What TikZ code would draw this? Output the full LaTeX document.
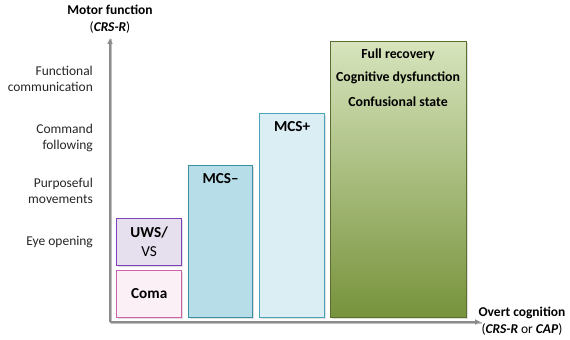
\documentclass[tikz,border=0pt]{standalone}
\usepackage{fontspec}
\setmainfont{Carlito}
\usetikzlibrary{positioning,shadows,arrows.meta}
\definecolor{axisgray}{HTML}{8C8C8C}
\definecolor{comaline}{HTML}{D060A8}
\definecolor{comafill}{HTML}{FCF0F7}
\definecolor{uwsline}{HTML}{7F3FBF}
\definecolor{uwsfill}{HTML}{E5DFEE}
\definecolor{mcsmline}{HTML}{3A8FA0}
\definecolor{mcsmfill}{HTML}{B7DDE8}
\definecolor{mcspline}{HTML}{4BA3B8}
\definecolor{mcspfill}{HTML}{DAEEF3}
\definecolor{recline}{HTML}{5A6E30}
\definecolor{rectop}{HTML}{D7E4BD}
\definecolor{recbot}{HTML}{77933C}
\tikzset{
  stage/.style={draw, line width=1.2pt, anchor=south west, inner sep=0pt,
    drop shadow={opacity=0.25, shadow xshift=1.2pt, shadow yshift=-1.2pt}},
  lvl/.style={align=right, anchor=east, font=\fontsize{11.5}{13.5}\selectfont, text=black!85},
  axlab/.style={align=center, font=\fontsize{11.5}{14}\selectfont},
  stagelab/.style={font=\fontsize{13}{15}\selectfont\bfseries},
  reclab/.style={font=\fontsize{11.8}{14}\selectfont\bfseries}
}
\begin{document}
\begin{tikzpicture}[x=0.03cm,y=-0.03cm]
\useasboundingbox (0,0) rectangle (570,339);
% axes
\coordinate (o) at (110,322);
\coordinate (ytop) at (110,38);
\coordinate (xend) at (481,322);
\draw[black!25, line width=2pt] ([xshift=1pt,yshift=-1pt]o) -- ([xshift=1pt,yshift=-1pt]xend);
\draw[black!25, line width=2pt] ([xshift=1pt,yshift=-1pt]o) -- ([xshift=1pt,yshift=-1pt]ytop);
\draw[axisgray, line width=2pt, -{Latex[length=5pt,width=5pt]}] (o) -- (ytop);
\draw[axisgray, line width=2pt, -{Latex[length=5pt,width=5pt]}] (o) -- (xend);
\node[axlab] (ylab) at (110,19) {\textbf{Motor function}\\(\textbf{\textit{CRS-R}})};
\node[axlab] (xlab) at (522,321) {\textbf{Overt cognition}\\(\textbf{\textit{CRS-R}} or \textbf{\textit{CAP}})};
% motor levels
\node[lvl] (l4) at (97,79) {Functional\\communication};
\node[lvl] (l3) at (97,138) {Command\\following};
\node[lvl] (l2) at (97,191) {Purposeful\\movements};
\node[lvl] (l1) at (97,242) {Eye opening};
% stages
\node[stage, draw=comaline, fill=comafill, minimum width=65*0.03cm, minimum height=47*0.03cm] (coma) at (116,318) {};
\node[stagelab] at (coma.center) {Coma};
\node[stage, draw=uwsline, fill=uwsfill, minimum width=65*0.03cm, minimum height=47*0.03cm] (uws) at (116,266) {};
\node[align=center, font=\fontsize{13}{16}\selectfont] at (uws.center) {\textbf{UWS/}\\VS};
\node[stage, draw=mcsmline, fill=mcsmfill, minimum width=64*0.03cm, minimum height=152*0.03cm] (mcsm) at (188,318) {};
\node[below=4pt of mcsm.north, stagelab] {MCS\textendash};
\node[stage, draw=mcspline, fill=mcspfill, minimum width=65*0.03cm, minimum height=204*0.03cm] (mcsp) at (259,318) {};
\node[below=4pt of mcsp.north, stagelab] {MCS+};
\node[stage, draw=recline, top color=rectop, bottom color=recbot, minimum width=136*0.03cm, minimum height=276*0.03cm] (rec) at (330,318) {};
\node[reclab] (r1) at (398,55) {Full recovery};
\node[reclab] (r2) at (398,78) {Cognitive dysfunction};
\node[reclab] (r3) at (398,102) {Confusional state};
\end{tikzpicture}
\end{document}
